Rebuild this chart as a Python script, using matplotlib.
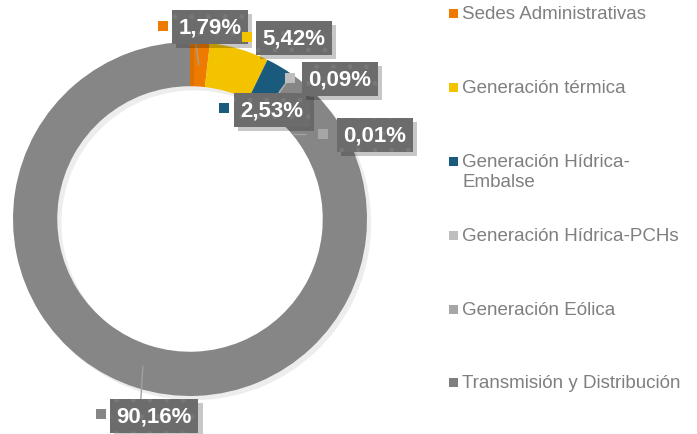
import numpy as np
import matplotlib
matplotlib.use("Agg")
import matplotlib.pyplot as plt
import matplotlib.patheffects as pe

plt.rcParams['font.family'] = ['Liberation Sans', 'DejaVu Sans']
plt.rcParams['hatch.linewidth'] = 1.0

# ---- data ----
categories = ["Sedes Administrativas", "Generación térmica", "Generación Hídrica-\nEmbalse",
              "Generación Hídrica-PCHs", "Generación Eólica", "Transmisión y Distribución"]
values = [1.79, 5.42, 2.53, 0.09, 0.01, 90.16]
labels = ["1,79%", "5,42%", "2,53%", "0,09%", "0,01%", "90,16%"]

# ---- style / layout ----
colors = ["#EE7A00", "#F3C300", "#195A7D", "#BEBEBE", "#A6A6A6", "#868686"]
legend_colors = ["#EE7A00", "#F3C300", "#195A7D", "#BEBEBE", "#A6A6A6", "#7F7F7F"]
# label box centers and marker positions (pie data coords, radius 1)
label_pos = [(0.113, 1.085), (0.588, 1.023), (0.463, 0.616), (0.847, 0.791), (1.045, 0.475), (-0.203, -1.113)]
marker_pos = [(-0.153, 1.09), (0.322, 1.028), (0.192, 0.627), (0.565, 0.797), (0.751, 0.480), (-0.503, -1.102)]
short_leaders = [((0.542, 0.768), (0.508, 0.723)), ((0.582, 0.480), (0.650, 0.480))]


class PlainShadow(pe.AbstractPathEffect):
    def __init__(self, offset=(3, -3), color='#000000', alpha=0.2):
        super().__init__(offset)
        self.rgb = matplotlib.colors.to_rgb(color)
        self.a = alpha

    def draw_path(self, renderer, gc, tpath, affine, rgbFace):
        gc0 = renderer.new_gc()
        gc0.copy_properties(gc)
        gc0.set_hatch(None)
        gc0.set_linewidth(0)
        gc0.set_alpha(self.a)
        renderer.draw_path(gc0, tpath, affine + self._offset_transform(renderer), self.rgb)
        gc0.restore()


W, H = 697, 435
fig = plt.figure(figsize=(W / 100, H / 100), dpi=100)
cx, cy, R = 190, 220, 177
ax = fig.add_axes([(cx - R) / W, (H - cy - R) / H, 2 * R / W, 2 * R / H])

wedges, _ = ax.pie(values, colors=colors, startangle=90, counterclock=False, radius=1,
                   wedgeprops=dict(width=0.25, edgecolor='none', linewidth=0))
ax.set_xlim(-1, 1)
ax.set_ylim(-1, 1)
ax.set_aspect('equal')
ax.axis('off')
for w in wedges:
    w.set_path_effects([PlainShadow(offset=(3, -3), alpha=0.07), pe.Normal()])

# leader lines
total = sum(values)
cum = 0
for i, v in enumerate(values):
    start = 90 - cum / total * 360
    end = 90 - (cum + v) / total * 360
    cum += v
    mid = np.deg2rad((start + end) / 2)
    if i in (0, 5):
        x0, y0 = 0.875 * np.cos(mid), 0.875 * np.sin(mid)
        lx, ly = label_pos[i]
        ty = ly - 0.09 if ly > 0 else ly + 0.09
        ax.plot([x0, lx - 0.08 if i == 0 else lx - 0.075], [y0, ty], color='#A0A0A0', lw=1.0,
                zorder=3, clip_on=False)
for (a, b) in short_leaders:
    ax.plot([a[0], b[0]], [a[1], b[1]], color='#A3A3A3', lw=1.0, zorder=3, clip_on=False)

for i, lab in enumerate(labels):
    t = ax.text(label_pos[i][0], label_pos[i][1], lab, ha='center', va='center',
                fontsize=16, fontweight='bold', color='white', zorder=6, clip_on=False,
                bbox=dict(boxstyle='square,pad=0.3', facecolor='#6C6C6C', edgecolor='#787878',
                          linewidth=0, hatch='.'))
    t.get_bbox_patch().set_path_effects([PlainShadow(offset=(3, -3), alpha=0.22), pe.Normal()])
    ax.plot(marker_pos[i][0], marker_pos[i][1], marker='s', markersize=7.5, color=colors[i],
            zorder=6, clip_on=False, markeredgewidth=0)

# legend (manual)
row_y = [14, 88, 162, 236, 310, 383]
for i, cat in enumerate(categories):
    y = row_y[i]
    fig.patches.append(matplotlib.patches.Rectangle((449 / W, (H - y - 4.5) / H), 9 / W, 9 / H,
                                                    transform=fig.transFigure, facecolor=legend_colors[i],
                                                    edgecolor='none'))
    fig.text(462 / W, (H - y + 8) / H, cat, ha='left', va='top', fontsize=13.5, color='#7F7F7F',
             linespacing=1.25)

fig.savefig("out.png", dpi=100)
